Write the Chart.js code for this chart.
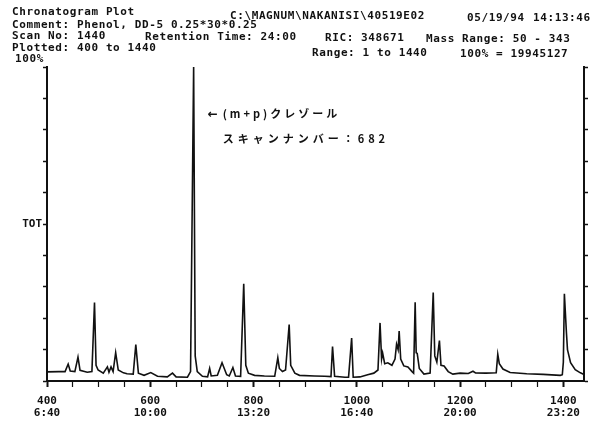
<!DOCTYPE html>
<html>
<head>
<meta charset="utf-8">
<script src="https://cdn.jsdelivr.net/npm/chart.js@4"></script>
<style>
  html, body { margin: 0; padding: 0; background: #fff; }
  #wrap { width: 601px; height: 425px; position: relative; }
</style>
</head>
<body>
<div id="wrap"><canvas id="ticChart"></canvas></div>
<script>
// scan numbers and total ion current (% of 19945127)
const scans = [
  400, 423, 435, 441, 445, 454, 460, 464, 478, 487, 492, 495, 499, 509, 517, 520, 524, 528, 533, 538,
  548, 555, 567, 572, 577, 588, 601, 614, 633, 643, 650, 672, 678, 684, 687, 691, 701, 711, 715, 718,
  730, 739, 748, 753, 760, 765, 775, 781, 785, 790, 802, 821, 841, 847, 850, 856, 862, 869, 872, 880,
  889, 918, 938, 950, 953, 957, 977, 984, 990, 993, 1006, 1021, 1033, 1041, 1045, 1048, 1050, 1054, 1060, 1068,
  1074, 1077, 1080, 1082, 1085, 1091, 1099, 1107, 1110, 1113, 1115, 1117, 1121, 1130, 1142, 1148, 1151, 1155, 1160, 1163,
  1169, 1177, 1186, 1200, 1216, 1225, 1230, 1250, 1270, 1273, 1276, 1283, 1297, 1329, 1361, 1394, 1398, 1400, 1402, 1406,
  1408, 1414, 1423, 1433, 1440
];
const tic = [
  2.9, 3.0, 3.0, 5.4, 3.2, 3.0, 7.6, 3.4, 2.8, 3.0, 25.0, 5.0, 3.5, 2.5, 4.5, 2.8, 4.5, 3.0, 9.0, 3.5,
  2.6, 2.3, 2.2, 11.6, 2.5, 1.8, 2.7, 1.5, 1.3, 2.5, 1.3, 1.2, 3.0, 100, 8.0, 3.0, 1.5, 1.3, 4.0, 1.6,
  1.8, 5.8, 2.0, 1.6, 4.3, 1.6, 1.5, 31.0, 5.0, 2.5, 1.8, 1.6, 1.5, 7.4, 4.0, 3.0, 3.5, 18.0, 5.0, 2.5,
  1.8, 1.6, 1.5, 1.4, 11.0, 1.5, 1.2, 1.2, 13.7, 1.2, 1.3, 2.0, 2.5, 3.5, 18.5, 7.0, 8.9, 5.5, 5.8, 5.0,
  7.0, 11.7, 10.0, 15.9, 7.0, 4.8, 4.5, 3.0, 2.5, 25.1, 9.0, 8.8, 4.0, 2.2, 2.5, 28.2, 8.0, 6.0, 12.9, 5.0,
  4.8, 3.0, 2.2, 2.5, 2.4, 3.1, 2.6, 2.5, 2.6, 8.5, 5.5, 3.8, 2.7, 2.3, 2.1, 1.8, 2.0, 6.0, 27.8, 15.3,
  10.0, 5.8, 3.6, 2.6, 2.1
];
const tickScans = [400, 600, 800, 1000, 1200, 1400];
const tickTimes = ['6:40', '10:00', '13:20', '16:40', '20:00', '23:20'];

const headerLines = [
  ['Chronatogram Plot', 12, 15],
  ['C:\\MAGNUM\\NAKANISI\\40519E02', 230, 18.5],
  ['05/19/94', 467, 20.5],
  ['14:13:46', 533, 20.5],
  ['Comment: Phenol, DD-5 0.25*30*0.25', 12, 28.3],
  ['Scan No: 1440', 12, 39.3],
  ['Retention Time: 24:00', 145, 39.5],
  ['RIC: 348671', 325, 41],
  ['Mass Range: 50 - 343', 426, 41.5],
  ['Plotted: 400 to 1440', 12, 50.7],
  ['Range: 1 to 1440', 312, 56],
  ['100% = 19945127', 460, 56.5],
  ['100%', 15, 61.7]
];
const peakLabel = ['(m+p)クレゾール', 'スキャンナンバー：682'];
const peakScan = 684;

const INK = '#111';
const MONO = '"DejaVu Sans Mono", "Liberation Mono", monospace';

const textPlugin = {
  id: 'textPlugin',
  afterDraw(chart) {
    const ctx = chart.ctx;
    ctx.save();
    ctx.fillStyle = INK;
    ctx.font = 'bold 11px ' + MONO;
    ctx.letterSpacing = '0.6px';
    ctx.textBaseline = 'alphabetic';
    headerLines.forEach(([t, x, y]) => ctx.fillText(t, x, y));

    const xs = chart.scales.x;
    const ys = chart.scales.y;
    const ax = xs.getPixelForValue(peakScan) + 14;
    const ay = ys.getPixelForValue(84);
    ctx.letterSpacing = '0px';
    ctx.font = 'bold 12px "DejaVu Sans"';
    ctx.fillText('←', ax, ay + 1);
    ctx.font = 'bold 11px "Noto Sans CJK JP"';
    ctx.letterSpacing = '3px';
    ctx.fillText(peakLabel[0], ax + 15, ay + 1);
    ctx.letterSpacing = '4px';
    ctx.fillText(peakLabel[1], ax + 15, ay + 26);
    ctx.restore();
  }
};

function labelFor(v) {
  const i = tickScans.indexOf(v);
  return i < 0 ? '' : [String(v), tickTimes[i]];
}

const axisGrid = {
  display: true,
  drawOnChartArea: false,
  drawTicks: true,
  tickLength: 5,
  tickColor: INK,
  tickWidth: 1.5
};

new Chart(document.getElementById('ticChart'), {
  type: 'line',
  data: {
    datasets: [{
      label: 'TOT',
      data: scans.map((s, i) => ({ x: s, y: tic[i] })),
      borderColor: INK,
      borderWidth: 1.6,
      pointRadius: 0,
      tension: 0,
      fill: false,
      clip: false
    }]
  },
  options: {
    responsive: true,
    maintainAspectRatio: false,
    animation: false,
    layout: { padding: { top: 67, left: 0, right: 0, bottom: 0 } },
    plugins: { legend: { display: false }, tooltip: { enabled: false } },
    scales: {
      x: {
        type: 'linear',
        min: 400,
        max: 1440,
        border: { color: INK, width: 2 },
        grid: {
          ...axisGrid,
          tickLength: 6,
          tickWidth: c => (c.tick && c.tick.value % 200 === 0 ? 2 : 1.2)
        },
        afterBuildTicks: s => {
          const t = [];
          for (let v = 400; v <= 1400; v += 50) t.push({ value: v });
          s.ticks = t;
        },
        ticks: {
          autoSkip: false,
          maxRotation: 0,
          padding: 8,
          color: INK,
          font: { family: MONO, size: 11, weight: 'bold', lineHeight: 1.1 },
          callback: v => labelFor(v)
        },
        afterFit: s => { s.height = 44; }
      },
      y: {
        position: 'left',
        min: 0,
        max: 100,
        border: { color: INK, width: 2 },
        grid: { ...axisGrid, tickLength: 4 },
        ticks: {
          stepSize: 10,
          padding: 1,
          color: INK,
          font: { family: MONO, size: 11, weight: 'bold' },
          callback: v => (v === 50 ? 'TOT' : '')
        },
        afterFit: s => { s.width = 47; }
      },
      y2: {
        position: 'right',
        min: 0,
        max: 100,
        border: { color: INK, width: 2 },
        grid: { ...axisGrid, tickLength: 4 },
        ticks: { stepSize: 10, callback: () => '' },
        afterFit: s => { s.width = 17; }
      }
    }
  },
  plugins: [textPlugin]
});
</script>
</body>
</html>
